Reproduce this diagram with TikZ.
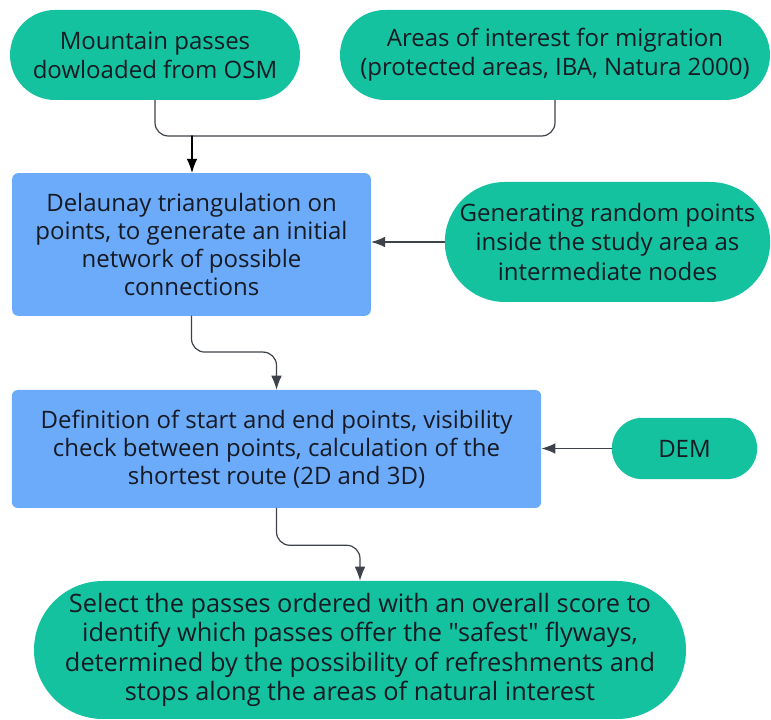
\documentclass[tikz,border=0pt]{standalone}
\usepackage{fontspec}
\setmainfont{Open Sans}[Ligatures=TeXOff]
\usetikzlibrary{arrows.meta}
\usetikzlibrary{positioning}
\usetikzlibrary{shapes.misc}

\begin{document}
\begin{tikzpicture}[>=Latex, line cap=round, line join=round, x=0.75pt, y=0.75pt]

  % Colors
  \definecolor{tealA}{RGB}{20,194,160}
  \definecolor{blueA}{RGB}{108,170,250}
  \definecolor{inkA}{RGB}{22,26,34}
  \definecolor{grayA}{RGB}{62,66,74}

  \tikzset{
    pill/.style={rounded rectangle, fill=tealA, draw=none, text=inkA, inner sep=0pt, align=center, font=\fontsize{18}{22}\selectfont},
    box/.style={rounded corners=4.5pt, fill=blueA, draw=none, text=inkA, inner sep=0pt, align=center, font=\fontsize{18}{21}\selectfont},
    link/.style={draw=grayA, line width=0.9pt, rounded corners=10pt},
    arrowL/.style={link, -{Latex[length=10.5pt,width=8pt]}},
  }

  \useasboundingbox (0,0) rectangle (771,720);

  % --- Top: input data
  \node[pill, minimum width=217.5pt, minimum height=67.5pt] (passes) at (155,665) {%
    Mountain passes\\dowloaded from OSM};
  \node[pill, minimum width=322.5pt, minimum height=67.5pt] (areas) at (555,665) {%
    Areas of interest for migration\\(protected areas, IBA, Natura 2000)};

  \coordinate (join) at (192,584);
  \draw[link] (passes.south) |- (join);
  \draw[link] (areas.south) |- (join);

  % --- Middle: network
  \node[box, minimum width=269pt, minimum height=107pt] (delaunay) at (191.5,475.5) {%
    Delaunay triangulation on\\points, to generate an initial\\network of possible\\connections};
  \node[pill, minimum width=244pt, minimum height=90pt] (randpts) at (607.5,478) {%
    Generating random points\\inside the study area as\\intermediate nodes};

  \draw[arrowL, draw=black] (join) -- (join |- delaunay.north);
  \draw[arrowL] (randpts.west) -- (randpts.west -| delaunay.east);

  % --- Routes
  \node[box, minimum width=397pt, minimum height=88.5pt] (route) at (276.5,271) {%
    Definition of start and end points, visibility\\check between points, calculation of the\\shortest route (2D and 3D)};
  \node[pill, minimum width=109pt, minimum height=46pt] (dem) at (684.5,271.5) {DEM};

  \draw[arrowL] (delaunay.south) -- ++(0,-36) -| (route.north);
  \draw[arrowL] (dem.west) -- (dem.west -| route.east);

  % --- Bottom: result
  \node[pill, minimum width=489pt, minimum height=103.5pt, font=\fontsize{19}{22}\selectfont] (select) at (360,70) {%
    Select the passes ordered with an overall score to\\identify which passes offer the "safest" flyways,\\determined by the possibility of refreshments and\\stops along the areas of natural interest};

  \draw[arrowL] (route.south) -- ++(0,-37) -| (select.north);

\end{tikzpicture}
\end{document}
